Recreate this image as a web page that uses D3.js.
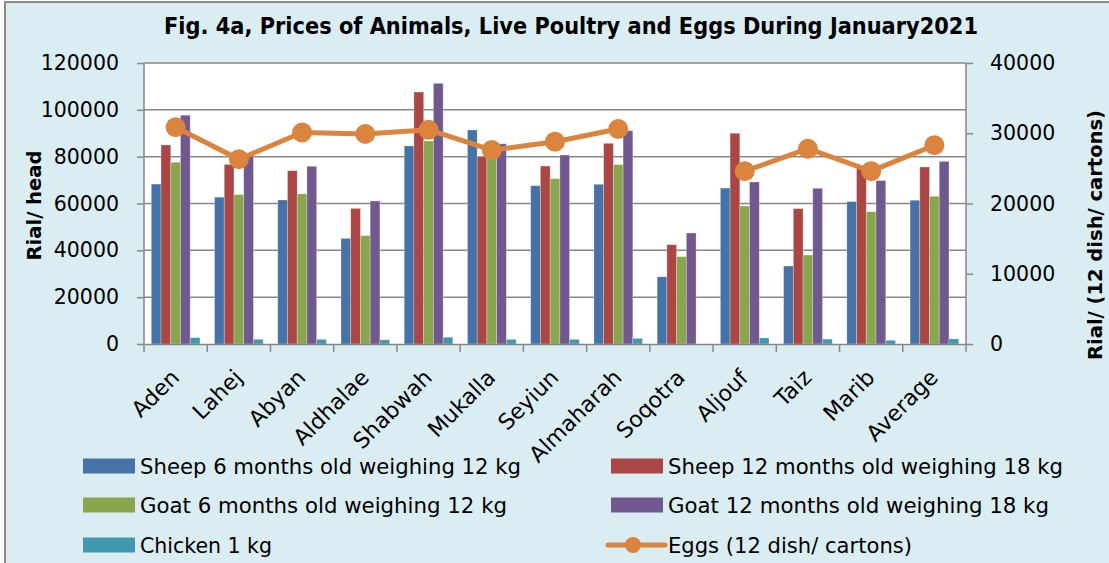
<!DOCTYPE html>
<html>
<head>
<meta charset="utf-8">
<script src="https://cdn.jsdelivr.net/npm/d3@7"></script>
<style>
  body { margin: 0; background: #fff; }
  svg { display: block; }
  text { font-family: "DejaVu Sans", sans-serif; fill: #000; }
</style>
</head>
<body>
<div id="chart"></div>
<script>
const categories = ["Aden", "Lahej", "Abyan", "Aldhalae", "Shabwah", "Mukalla", "Seyiun", "Almaharah", "Soqotra", "Aljouf", "Taiz", "Marib", "Average"]
const sheep6 = [68300, 62700, 61500, 45100, 84600, 91400, 67600, 68200, 28700, 66600, 33300, 60800, 61400]
const sheep12 = [85000, 76700, 74000, 57900, 107600, 80000, 76000, 85700, 42400, 90000, 57800, 75000, 75600]
const goat6 = [77600, 63800, 64100, 46300, 86700, 83000, 70600, 76600, 37300, 58900, 38000, 56500, 63100]
const goat12 = [97700, 80500, 75900, 61100, 111300, 85500, 80700, 91100, 47400, 69200, 66500, 69800, 78000]
const chicken = [2700, 2000, 2000, 1800, 2900, 2000, 2000, 2400, 0, 2600, 2100, 1600, 2200]
const eggs = [30850, 26300, 30100, 29900, 30500, 27600, 28800, 30600, null, 24600, 27800, 24600, 28300]

const seriesNames = [
  "Sheep 6 months old weighing 12 kg",
  "Sheep 12 months old weighing 18 kg",
  "Goat 6 months old weighing 12 kg",
  "Goat 12 months old weighing 18 kg",
  "Chicken 1 kg",
]
const eggsName = "Eggs (12 dish/ cartons)"
const leftTicks = [0, 20000, 40000, 60000, 80000, 100000, 120000]
const rightTicks = [0, 10000, 20000, 30000, 40000]
const colors = ["#4572a7", "#aa4643", "#89a54e", "#71588f", "#4198af"]
const eggColor = "#db843d"

function draw() {
  const dimensions = {
    width: 1109,
    height: 563,
    margin: { top: 63, left: 144, bottom: 219, right: 143 },
  }
  dimensions.ctrWidth = dimensions.width - dimensions.margin.left - dimensions.margin.right
  dimensions.ctrHeight = dimensions.height - dimensions.margin.top - dimensions.margin.bottom

  const svg = d3
    .select("#chart")
    .append("svg")
    .attr("width", dimensions.width)
    .attr("height", dimensions.height)

  // chart background + frame
  svg.append("rect")
    .attr("x", 5).attr("y", 2)
    .attr("width", dimensions.width + 10).attr("height", dimensions.height + 10)
    .attr("fill", "#daedf3")
    .attr("stroke", "#8a8a8a")
    .attr("stroke-width", 2)

  svg.append("text")
    .attr("x", 164)
    .attr("y", 34)
    .attr("textLength", 814)
    .attr("lengthAdjust", "spacingAndGlyphs")
    .style("font-size", "23px")
    .style("font-weight", "bold")
    .text("Fig. 4a, Prices of Animals, Live Poultry and Eggs During January2021")

  const ctr = svg.append("g")
    .attr("transform", `translate(${dimensions.margin.left}, ${dimensions.margin.top})`)

  ctr.append("rect")
    .attr("width", dimensions.ctrWidth)
    .attr("height", dimensions.ctrHeight)
    .attr("fill", "#fff")

  const x0 = d3.scaleBand().domain(categories).range([0, dimensions.ctrWidth])
  const bw = x0.bandwidth()
  const gw = bw * 5 / 6.5
  const x1 = d3.scaleBand().domain(d3.range(5)).range([(bw - gw) / 2, (bw + gw) / 2])

  const yLeft = d3.scaleLinear().domain([0, 120000]).range([dimensions.ctrHeight, 0])
  const yRight = d3.scaleLinear().domain([0, 40000]).range([dimensions.ctrHeight, 0])

  // gridlines
  ctr.append("g")
    .selectAll("line")
    .data(leftTicks.slice(1))
    .join("line")
    .attr("x1", 0).attr("x2", dimensions.ctrWidth)
    .attr("y1", d => yLeft(d)).attr("y2", d => yLeft(d))
    .attr("stroke", "#878787")
    .attr("stroke-width", 1.5)

  // bars
  const allSeries = [sheep6, sheep12, goat6, goat12, chicken]
  const barData = []
  categories.forEach((c, i) => {
    allSeries.forEach((s, j) => barData.push({ cat: c, s: j, v: s[i] }))
  })
  ctr.append("g")
    .selectAll("rect")
    .data(barData)
    .join("rect")
    .attr("x", d => x0(d.cat) + x1(d.s))
    .attr("width", x1.bandwidth())
    .attr("y", d => yLeft(d.v))
    .attr("height", d => dimensions.ctrHeight - yLeft(d.v))
    .attr("fill", d => colors[d.s])
    .attr("stroke", "rgba(255,255,255,0.35)")
    .attr("stroke-width", 0.8)

  // axes
  const axisColor = "#878787"
  const leftAxis = ctr.append("g")
    .call(d3.axisLeft(yLeft).tickValues(leftTicks).tickSize(7).tickPadding(18).tickFormat(d3.format("d")))
  const rightAxis = ctr.append("g")
    .attr("transform", `translate(${dimensions.ctrWidth},0)`)
    .call(d3.axisRight(yRight).tickValues(rightTicks).tickSize(7).tickPadding(17).tickFormat(d3.format("d")))
  const bottomAxis = ctr.append("g")
    .attr("transform", `translate(0,${dimensions.ctrHeight})`)
    .call(d3.axisBottom(x0).tickSize(0).tickFormat(""))

  ;[leftAxis, rightAxis, bottomAxis].forEach(a => {
    a.select(".domain").attr("stroke", axisColor).attr("stroke-width", 1.5)
    a.selectAll(".tick line").attr("stroke", axisColor).attr("stroke-width", 1.5)
    a.selectAll("text").style("font-family", "DejaVu Sans").style("font-size", "20.5px").attr("fill", "#000")
  })
  leftAxis.select(".domain").attr("d", `M0,${dimensions.ctrHeight}V0`)
  rightAxis.select(".domain").attr("d", `M0,${dimensions.ctrHeight}V0`)

  // category boundary ticks
  bottomAxis.selectAll(".bound")
    .data(d3.range(categories.length + 1))
    .join("line")
    .attr("x1", i => i * bw).attr("x2", i => i * bw)
    .attr("y1", 0).attr("y2", 8)
    .attr("stroke", axisColor)
    .attr("stroke-width", 1.5)

  // rotated category labels
  ctr.append("g")
    .selectAll("text")
    .data(categories)
    .join("text")
    .attr("transform", d => `translate(${x0(d) + bw / 2 - 6},${dimensions.ctrHeight + 24}) rotate(-45)`)
    .attr("text-anchor", "end")
    .attr("dy", "0.7em")
    .style("font-size", "22px")
    .text(d => d)

  // eggs line
  const eggLine = d3.line()
    .defined(d => d != null)
    .x((d, i) => x0(categories[i]) + bw / 2)
    .y(d => yRight(d))
  ctr.append("path")
    .datum(eggs)
    .attr("d", eggLine)
    .attr("fill", "none")
    .attr("stroke", eggColor)
    .attr("stroke-width", 5)
    .attr("stroke-linejoin", "round")

  ctr.append("g")
    .selectAll("circle")
    .data(eggs.map((v, i) => ({ v, c: categories[i] })).filter(d => d.v != null))
    .join("circle")
    .attr("cx", d => x0(d.c) + bw / 2)
    .attr("cy", d => yRight(d.v))
    .attr("r", 10)
    .attr("fill", eggColor)

  // axis titles
  svg.append("text")
    .attr("transform", `translate(41, ${dimensions.margin.top + dimensions.ctrHeight / 2 + 2}) rotate(-90)`)
    .attr("text-anchor", "middle")
    .attr("textLength", 110)
    .attr("lengthAdjust", "spacingAndGlyphs")
    .style("font-size", "19px")
    .style("font-weight", "bold")
    .text("Rial/ head")

  svg.append("text")
    .attr("transform", `translate(1102, 235) rotate(-90)`)
    .attr("text-anchor", "middle")
    .attr("textLength", 250)
    .attr("lengthAdjust", "spacingAndGlyphs")
    .style("font-size", "19px")
    .style("font-weight", "bold")
    .text("Rial/ (12 dish/ cartons)")

  // legend
  const legendItems = [
    { name: seriesNames[0], color: colors[0], x: 83, y: 466, w: 381 },
    { name: seriesNames[1], color: colors[1], x: 611, y: 466, w: 395 },
    { name: seriesNames[2], color: colors[2], x: 83, y: 505, w: 367 },
    { name: seriesNames[3], color: colors[3], x: 611, y: 505, w: 381 },
    { name: seriesNames[4], color: colors[4], x: 83, y: 545, w: 132 },
    { name: eggsName, color: eggColor, x: 611, y: 545, w: 244, line: true },
  ]
  const legend = svg.append("g")
  legendItems.forEach(d => {
    const g = legend.append("g").attr("transform", `translate(${d.x},${d.y})`)
    if (d.line) {
      g.append("line").attr("x1", -3).attr("x2", 54).attr("y1", 0).attr("y2", 0)
        .attr("stroke", d.color).attr("stroke-width", 5).attr("stroke-linecap", "round")
      g.append("circle").attr("cx", 22).attr("cy", 0).attr("r", 8).attr("fill", d.color)
    } else {
      g.append("rect").attr("x", 0).attr("y", -7.5).attr("width", 52).attr("height", 15).attr("fill", d.color)
    }
    g.append("text")
      .attr("x", 57)
      .attr("y", 8)
      .attr("textLength", d.w)
      .attr("lengthAdjust", "spacingAndGlyphs")
      .style("font-size", "22px")
      .text(d.name)
  })
}

draw()
</script>
</body>
</html>
